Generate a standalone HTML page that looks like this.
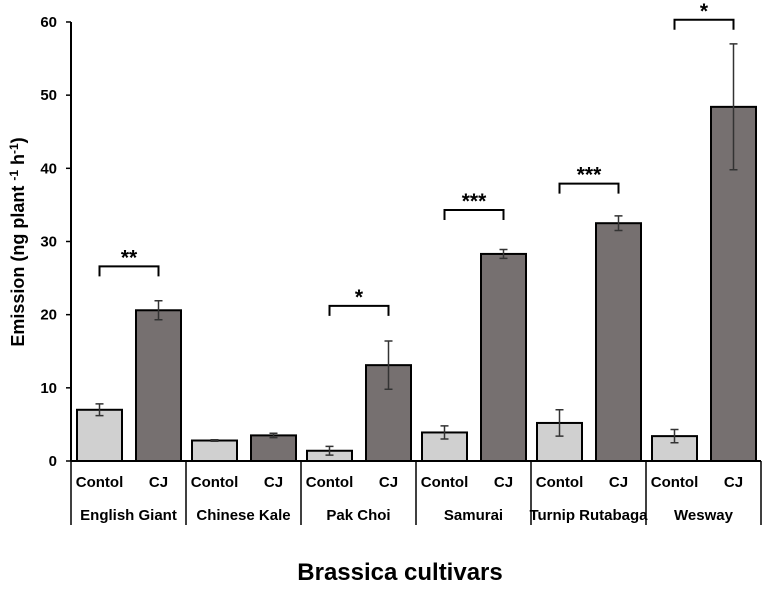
<!DOCTYPE html>
<html><head><meta charset="utf-8"><style>
body{margin:0;background:#fff}
svg text{font-family:"Liberation Sans",sans-serif;font-weight:bold;fill:#000}
</style></head><body>
<svg id="chart" width="765" height="585" viewBox="0 0 765 585" xmlns="http://www.w3.org/2000/svg">
<g id="g"></g>
</svg>
<script>
const cultivars=["English Giant","Chinese Kale","Pak Choi","Samurai","Turnip Rutabaga","Wesway"];
const controlVals=[7.0,2.8,1.4,3.9,5.2,3.4];
const controlErr=[0.8,0.1,0.6,0.9,1.8,0.9];
const cjVals=[20.6,3.5,13.1,28.3,32.5,48.4];
const cjErr=[1.3,0.3,3.3,0.6,1.0,8.6];
const sigLevel=[26.6,null,21.2,34.3,37.9,60.3];
const sigLabel=["**","","*","***","***","*"];
const yTicks=[0,10,20,30,40,50,60];

const NS="http://www.w3.org/2000/svg";
const g=document.getElementById('g');
const x0=71,gw=115,y0=461,ppu=7.317;
const y=v=>y0-v*ppu;
function mk(t,a,p){const e=document.createElementNS(NS,t);for(const k in a)e.setAttribute(k,a[k]);(p||g).appendChild(e);return e;}

let ax=mk('line',{x1:x0,y1:y(60),x2:x0,y2:y0,stroke:'#000','stroke-width':2});


yTicks.forEach(t=>{
  let tk=mk('line',{x1:x0-5,y1:y(t),x2:x0,y2:y(t),stroke:'#000','stroke-width':1.5});
  
  
  let tl=mk('text',{x:x0-14,y:y(t)+5,'text-anchor':'end','font-size':15});
  tl.textContent=t;
  
  
});
let yt=mk('text',{x:0,y:0,'text-anchor':'middle','font-size':18,transform:'translate(24,242) rotate(-90)'});
yt.innerHTML='Emission (ng plant <tspan dy="-6" font-size="12">-1</tspan><tspan dy="6"> h</tspan><tspan dy="-6" font-size="12">-1</tspan><tspan dy="6">)</tspan>';



cultivars.forEach((c,i)=>{
  const gx=x0+i*gw;
  [[controlVals,controlErr,6,'#d0d0d0','Contol'],[cjVals,cjErr,65,'#767070','CJ']].forEach(([vals,errs,off,col,lab])=>{
    let b=mk('rect',{x:gx+off,y:y(vals[i]),width:45,height:vals[i]*ppu,fill:col,stroke:'#000','stroke-width':2});
    
    
    const cx=gx+off+22.5;
    let eb=mk('path',{d:`M${cx},${y(vals[i]+errs[i])}V${y(vals[i]-errs[i])}M${cx-4},${y(vals[i]+errs[i])}H${cx+4}M${cx-4},${y(vals[i]-errs[i])}H${cx+4}`,stroke:'#333','stroke-width':1.5,fill:'none'});
    
    
    let tl=mk('text',{x:cx,y:487,'text-anchor':'middle','font-size':15});
    tl.textContent=lab;
    
    
  });
  let cl=mk('text',{x:gx+gw/2,y:520,'text-anchor':'middle','font-size':15});
  cl.textContent=c;
  
  
  let sep=mk('line',{x1:gx+gw,y1:y0,x2:gx+gw,y2:525,stroke:'#000','stroke-width':1.5});
  
  
  if(sigLevel[i]!==null){
    const a=gx+28.5,b2=gx+87.5,yy=y(sigLevel[i]);
    let br=mk('path',{d:`M${a},${yy+10}V${yy}H${b2}V${yy+10}`,stroke:'#000','stroke-width':2,fill:'none'});
    
    
    let st=mk('text',{x:(a+b2)/2,y:yy-2,'text-anchor':'middle','font-size':21});
    st.textContent=sigLabel[i];
    
    
  }
});
let sep0=mk('line',{x1:x0,y1:y0,x2:x0,y2:525,stroke:'#000','stroke-width':1.5});


let xa=mk('line',{x1:x0,y1:y0,x2:x0+6*gw,y2:y0,stroke:'#000','stroke-width':2});


let xt=mk('text',{x:400,y:580,'text-anchor':'middle','font-size':24});
xt.textContent='Brassica cultivars';


</script>
</body></html>
